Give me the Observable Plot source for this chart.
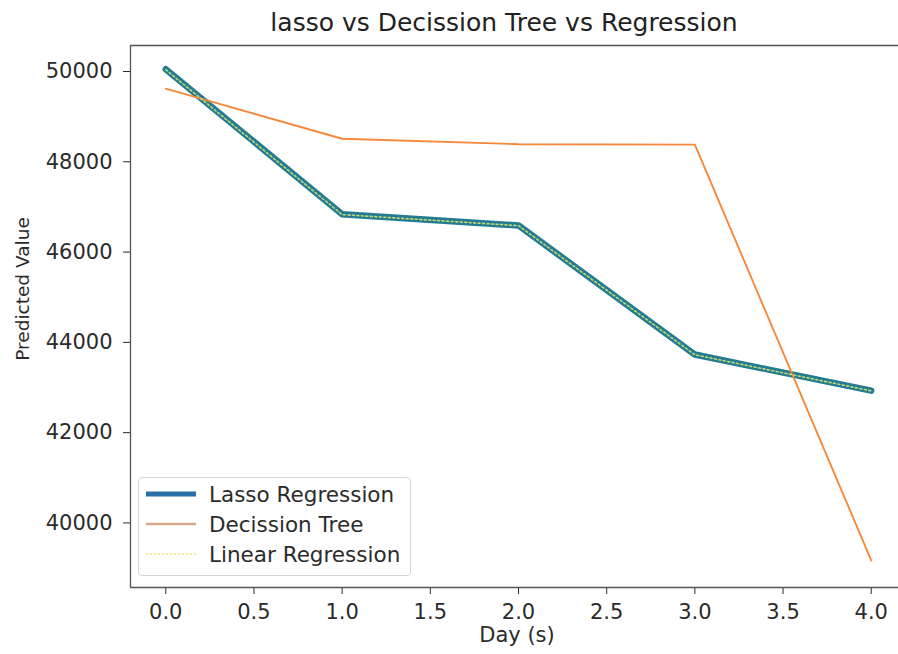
<!DOCTYPE html>
<html>
<head>
<meta charset="utf-8">
<script src="https://cdn.jsdelivr.net/npm/d3@7"></script>
<script src="https://cdn.jsdelivr.net/npm/@observablehq/plot@0.6"></script>
<style>
  html, body { margin: 0; padding: 0; background: #fff; overflow: hidden; }
  #wrap { position: relative; width: 898px; height: 654px; overflow: hidden; font-family: "DejaVu Sans", sans-serif; color: #2b2b2b; }
  #wrap > svg { position: absolute; left: 0; top: 0; overflow: hidden; }
  .title { position: absolute; top: 8px; left: 504px; transform: translateX(-50%); font-size: 25px; white-space: nowrap; color: #222; }
  .xlabel { position: absolute; top: 623px; left: 517px; transform: translateX(-50%); font-size: 21px; white-space: nowrap; }
  .ylabel { position: absolute; left: 22px; top: 289px; transform: translate(-50%, -50%) rotate(-90deg); font-size: 18.5px; white-space: nowrap; }
  .legend { position: absolute; left: 138px; top: 477px; width: 271px; height: 97px; border: 1px solid #d6d6d6; border-radius: 4px; background: rgba(255,255,255,0.8); }
  .legend .row { position: absolute; left: 0; height: 30px; display: flex; align-items: center; font-size: 21.5px; white-space: nowrap; }
  .legend svg { margin-left: 7px; margin-right: 13px; }
</style>
</head>
<body>
<div id="wrap"></div>
<script>
// Predicted values per day for the three models
const days = [0, 1, 2, 3, 4];
const lassoValues = [50050, 46840, 46590, 43730, 42930];
const treeValues = [49620, 48510, 48390, 48380, 39170];
const linearValues = [50040, 46830, 46585, 43725, 42925];

const xTicks = [0, 0.5, 1, 1.5, 2, 2.5, 3, 3.5, 4];
const yTicks = [40000, 42000, 44000, 46000, 48000, 50000];

const seriesNames = ["Lasso Regression", "Decission Tree", "Linear Regression"];
const titleText = "lasso vs Decission Tree vs Regression";
const xLabel = "Day (s)";
const yLabel = "Predicted Value";

const xDomain = [-0.2, 4.2];
const yDomain = [38570, 50576];

const lasso = days.map((d, i) => ({day: d, value: lassoValues[i]}));
const tree = days.map((d, i) => ({day: d, value: treeValues[i]}));
const linear = days.map((d, i) => ({day: d, value: linearValues[i]}));

const colors = {lasso: "#237c92", tree: "#f5883a", linear: "#dfe670"};
const spine = {stroke: "#555", strokeWidth: 1.3};

const chart = Plot.plot({
  width: 898,
  height: 654,
  marginLeft: 130,
  marginRight: -8,
  marginTop: 45,
  marginBottom: 67,
  style: {fontFamily: "DejaVu Sans, sans-serif", fontSize: "21px", color: "#2b2b2b", background: "transparent"},
  x: {domain: xDomain, ticks: xTicks, tickFormat: d3.format(".1f"), tickSize: 7, tickPadding: 10, label: null},
  y: {domain: yDomain, ticks: yTicks, tickFormat: d => String(d), tickSize: 7, tickPadding: 11, label: null},
  marks: [
    Plot.line(lasso, {x: "day", y: "value", stroke: colors.lasso, strokeWidth: 6.5, strokeLinejoin: "round"}),
    Plot.line(tree, {x: "day", y: "value", stroke: colors.tree, strokeWidth: 1.9}),
    Plot.line(linear, {x: "day", y: "value", stroke: colors.linear, strokeWidth: 1.6, strokeDasharray: "2,2.5", strokeOpacity: 0.85}),
    // axes spines: left, bottom and top (the right one falls outside the canvas)
    Plot.ruleX([xDomain[0]], spine),
    Plot.ruleY(yDomain, spine)
  ]
});

const wrap = document.getElementById("wrap");
wrap.appendChild(chart);

function addDiv(cls, text) {
  const el = document.createElement("div");
  el.className = cls;
  if (text != null) el.textContent = text;
  wrap.appendChild(el);
  return el;
}
addDiv("title", titleText);
addDiv("xlabel", xLabel);
addDiv("ylabel", yLabel);

// Legend box inside the axes, lower left
const legend = addDiv("legend");
const swatches = [
  {stroke: "#2a6fa8", width: 5, dash: null},
  {stroke: "#d6aa88", width: 2.5, dash: null},
  {stroke: "#f2ee9a", width: 2, dash: "2,2"}
];
seriesNames.forEach((name, i) => {
  const row = document.createElement("div");
  row.className = "row";
  row.style.top = (1 + i * 30) + "px";
  const s = swatches[i];
  row.innerHTML = `<svg width="50" height="10"><line x1="0" x2="50" y1="5" y2="5" stroke="${s.stroke}" stroke-width="${s.width}"${s.dash ? ` stroke-dasharray="${s.dash}"` : ""}/></svg><span>${name}</span>`;
  legend.appendChild(row);
});
</script>
</body>
</html>
